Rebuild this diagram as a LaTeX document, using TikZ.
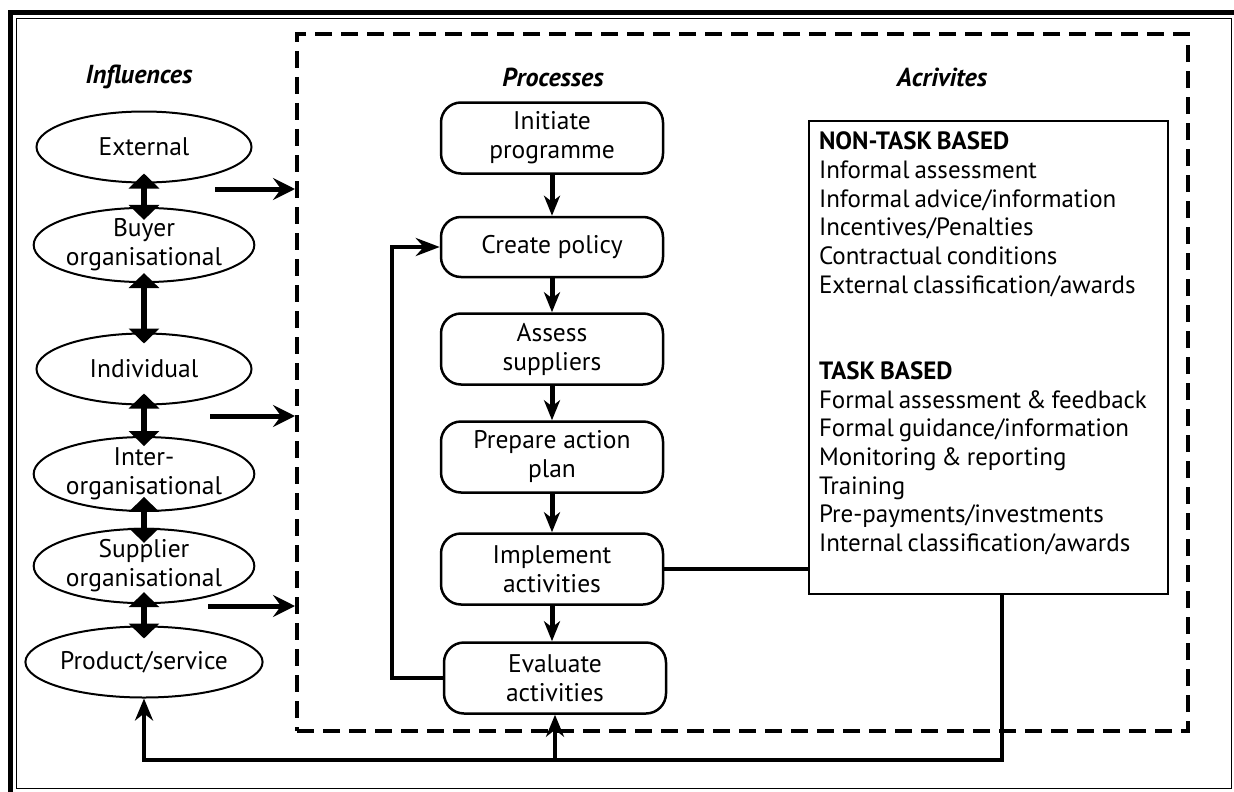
\documentclass[tikz,border=0pt]{standalone}
\usepackage{fontspec}
\setmainfont{PT Sans}
\usetikzlibrary{arrows.meta,shapes.geometric,calc}
\begin{document}
\begin{tikzpicture}[x=1pt,y=-1pt,
  font=\fontsize{25.5}{29}\selectfont,
  infl/.style={ellipse,draw,line width=2pt,minimum width=215pt,minimum height=71pt,inner sep=0pt,align=center},
  proc/.style={rectangle,rounded corners=20pt,draw,line width=2.5pt,minimum width=222pt,minimum height=71pt,inner sep=0pt,align=center},
  head/.style={font=\fontsize{26}{29}\selectfont\bfseries\itshape},
  dblarrow/.style={line width=6pt,{Triangle[width=30pt,length=15pt]}-{Triangle[width=30pt,length=15pt]}},
  flow/.style={line width=5pt,-{Stealth[width=16pt,length=20pt,inset=6pt]}},
  inarrow/.style={line width=5pt,-{Stealth[width=22pt,length=22pt,inset=8pt]}},
  link/.style={line width=4.5pt},
  upflow/.style={line width=4.5pt,-{Stealth[width=18pt,length=22pt,inset=7pt]}},
]
\useasboundingbox (0,0) rectangle (1234,792);
\fill[white] (0,0) rectangle (1234,792);
% frame
\draw[line width=4.5pt] (10.5,792) -- (10.5,12.5) -- (1234,12.5);
\draw[line width=1.5pt] (16.5,18.5) rectangle (1231.5,788.5);
% dashed box
\node[draw,line width=4pt,dash pattern=on 17pt off 9pt,minimum width=891pt,minimum height=697pt,inner sep=0pt] (dbox) at (742.5,382.5) {};
% headings
\node[head] (hI) at (139,77) {Influences};
\node[head] (hP) at (553,77) {Processes};
\node[head] (hA) at (942,77) {Acrivites};
% influences
\node[infl] (ext) at (144,147) {External};
\node[infl] (buy) at (144,245) {Buyer\\organisational};
\node[infl] (ind) at (144,369) {Individual};
\node[infl] (int) at (144,474) {Inter-\\organisational};
\node[infl] (sup) at (144,566) {Supplier\\organisational};
\node[infl] (prd) at (144,662) {Product/service};
\draw[dblarrow] ($(ext.south)+(0,-10)$) -- ($(buy.north)+(0,13)$);
\draw[dblarrow] ($(buy.south)+(0,-10)$) -- ($(ind.north)+(0,11)$);
\draw[dblarrow] ($(ind.south)+(0,-12)$) -- ($(int.north)+(0,10)$);
\draw[dblarrow] ($(int.south)+(0,-15)$) -- ($(sup.north)+(0,15)$);
\draw[dblarrow] ($(sup.south)+(0,-12)$) -- ($(prd.north)+(0,13)$);
% influence arrows into the dashed box
\coordinate (a1) at (215,189);
\coordinate (a2) at (210,416);
\coordinate (a3) at (208,606);
\draw[inarrow] (a1) -- (a1 -| dbox.west);
\draw[inarrow] (a2) -- (a2 -| dbox.west);
\draw[inarrow] (a3) -- (a3 -| dbox.west);
% processes
\node[proc] (p1) at (552,138) {Initiate\\programme};
\node[proc,minimum height=60pt] (p2) at (552,247) {Create policy};
\node[proc] (p3) at (552,349) {Assess\\suppliers};
\node[proc] (p4) at (552,457) {Prepare action\\plan};
\node[proc] (p5) at (552,569) {Implement\\activities};
\node[proc] (p6) at (555,678) {Evaluate\\activities};
\draw[flow] (p1) -- (p2);
\draw[flow] (p2) -- (p3);
\draw[flow] (p3) -- (p4);
\draw[flow] (p4) -- (p5);
\draw[flow] (p5.south) -- (p5.south |- p6.north);
\coordinate (fbx) at (392,0);
\draw[link,-{Stealth[width=18pt,length=24pt,inset=8pt]}] (p6.west) -- (p6.west -| fbx) -- (p2.west -| fbx) -- (p2.west);
% activities
\node[draw,line width=2pt,anchor=north west,inner xsep=10pt,inner ysep=11pt] (act) at (808,120)
 {\begin{minipage}[t][451pt][t]{339pt}\fontsize{25}{28.7}\selectfont\spaceskip=0.2em plus 0.1em minus 0.05em
 \textbf{NON-TASK BASED}\\
 Informal assessment\\
 Informal advice/information\\
 Incentives/Penalties\\
 Contractual conditions\\
 External classification/awards\\[57.4pt]
 \textbf{TASK BASED}\\
 Formal assessment \& feedback\\
 Formal guidance/information\\
 Monitoring \& reporting\\
 Training\\
 Pre-payments/investments\\
 Internal classification/awards
 \end{minipage}};
\draw[link] (p5.east) -- (p5.east -| act.west);
% bottom loop
\coordinate (br) at (1002,760);
\draw[link,-{Stealth[width=18pt,length=22pt,inset=7pt]}] (act.south -| br) -- (br) -- (br -| prd.south) -- (prd.south);
\draw[upflow] (p6.south |- br) -- (p6.south);
\end{tikzpicture}
\end{document}
